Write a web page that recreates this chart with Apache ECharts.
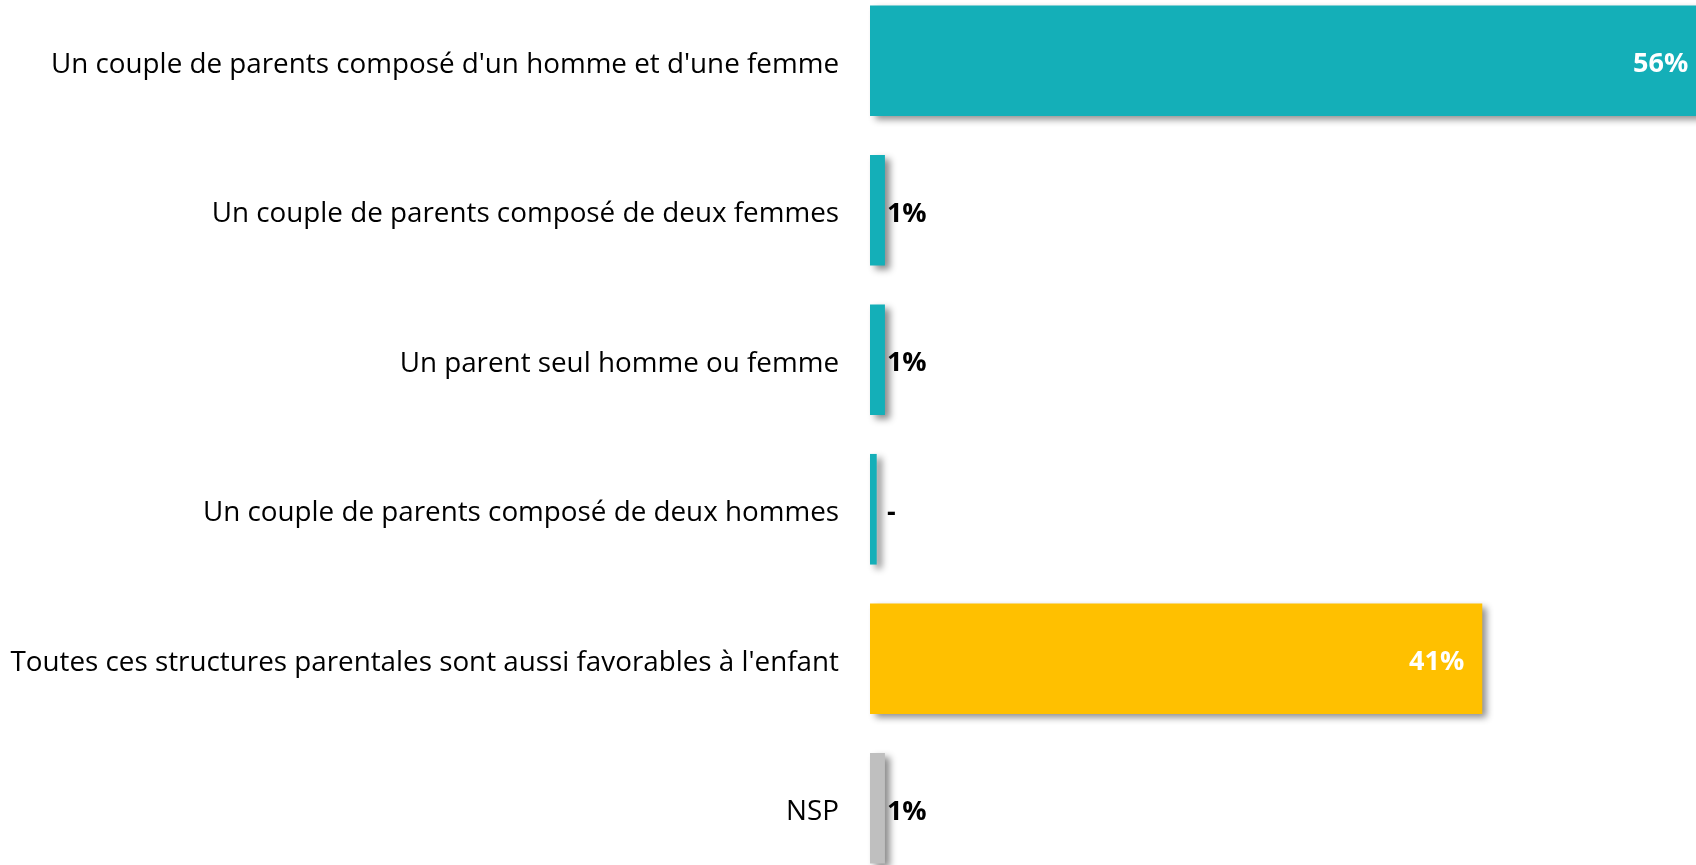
<!DOCTYPE html>
<html>
<head>
<meta charset="utf-8">
<style>
  html, body { margin: 0; padding: 0; background: #fff; }
  #chart { width: 1696px; height: 865px; }
</style>
<script src="https://cdn.jsdelivr.net/npm/echarts@6/dist/echarts.min.js"></script>
</head>
<body>
<div id="chart"></div>
<script>
// categories, top to bottom
var categories = [
  "Un couple de parents composé d'un homme et d'une femme",
  'Un couple de parents composé de deux femmes',
  'Un parent seul homme ou femme',
  'Un couple de parents composé de deux hommes',
  "Toutes ces structures parentales sont aussi favorables à l'enfant",
  'NSP'
];
var values = [56, 1, 1, 0.45, 41, 1];
var valueLabels = ['56%', '1%', '1%', '-', '41%', '1%'];

var barColors = ['#14afb8', '#14afb8', '#14afb8', '#14afb8', '#ffc000', '#bfbfbf'];
var FONT = '"Open Sans", sans-serif';

var chart = echarts.init(document.getElementById('chart'));

var data = values.map(function (v, i) {
  var big = v > 10;
  return {
    value: v,
    itemStyle: { color: barColors[i] },
    label: {
      position: big ? 'insideRight' : 'right',
      // keep the small labels lined up at the same x
      distance: big ? 18 : 2 + (1 - v) * 15,
      color: big ? '#fff' : '#000'
    }
  };
});

chart.setOption({
  animation: false,
  grid: {
    left: 870,
    top: -14,
    width: 896,
    height: 897,
    containLabel: false,
    outerBoundsMode: 'none'
  },
  xAxis: {
    type: 'value',
    min: 0,
    max: 60,
    show: false
  },
  yAxis: {
    type: 'category',
    inverse: true,
    data: categories,
    axisLine: { show: false },
    axisTick: { show: false },
    axisLabel: {
      margin: 31,
      fontSize: 27.8,
      fontFamily: FONT,
      color: '#000',
      verticalAlign: 'top',
      lineHeight: 8
    }
  },
  series: [{
    type: 'bar',
    barCategoryGap: '26%',
    clip: false,
    data: data,
    itemStyle: {
      shadowColor: 'rgba(0,0,0,0.45)',
      shadowBlur: 7,
      shadowOffsetX: 5,
      shadowOffsetY: 4
    },
    label: {
      show: true,
      fontSize: 27,
      fontWeight: 'bold',
      fontFamily: FONT,
      offset: [0, 4],
      formatter: function (p) { return valueLabels[p.dataIndex]; }
    }
  }]
});
</script>
</body>
</html>
